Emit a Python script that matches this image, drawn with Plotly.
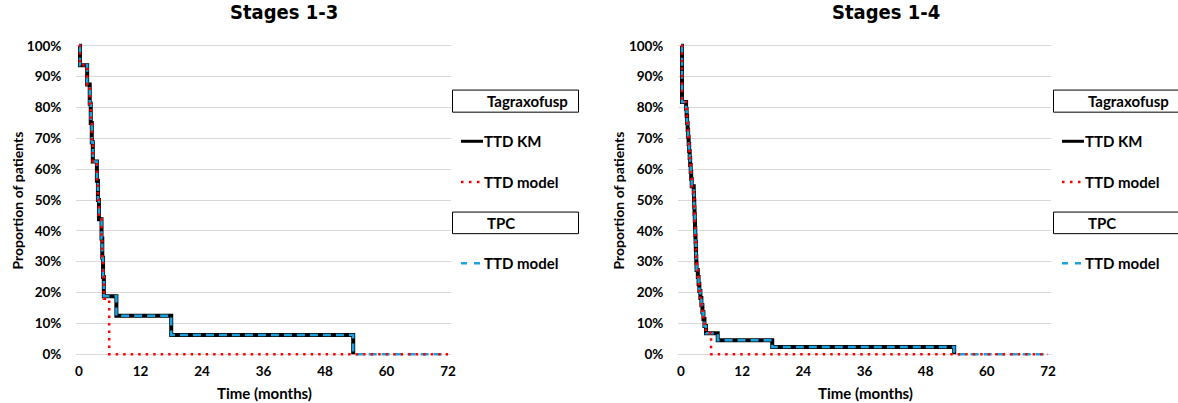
import plotly.graph_objects as go

# ---------------- data ----------------
# Stages 1-3 (n=16)
km13_t = [0, 0.2, 1.6, 2.1, 2.3, 2.5, 2.7, 3.5, 3.7, 3.9, 4.4, 4.55, 4.7, 4.85, 7.3, 18.0, 53.5]
km13_s = [100, 93.75, 87.5, 81.25, 75, 68.75, 62.5, 56.25, 50, 43.75, 37.5, 31.25, 25, 18.75, 12.5, 6.25, 0]
mod13_t = [0, 0.2, 1.6, 2.1, 2.3, 2.5, 2.7, 3.5, 3.7, 3.9, 4.4, 4.55, 4.7, 4.85, 5.9, 72]
mod13_s = [100, 93.75, 87.5, 81.25, 75, 68.75, 62.5, 56.25, 50, 43.75, 37.5, 31.25, 25, 18.0, 0, 0]
tpc13_t = [0, 0.2, 1.6, 2.1, 2.3, 2.5, 2.7, 3.5, 3.7, 3.9, 4.4, 4.55, 4.7, 4.85, 7.3, 18.0, 53.5, 72]
tpc13_s = [100, 93.75, 87.5, 81.25, 75, 68.75, 62.5, 56.25, 50, 43.75, 37.5, 31.25, 25, 18.75, 12.5, 6.25, 0, 0]

# Stages 1-4 (n=44)
km14_t = [0, 0.2, 1.0, 1.1, 1.2, 1.3, 1.4, 1.5, 1.6, 1.7, 1.8, 1.9, 2.0, 2.1,
          2.5, 2.55, 2.6, 2.65, 2.7, 2.75, 2.8, 2.85, 2.9, 2.95, 3.0, 3.05,
          3.3, 3.45, 3.6, 3.8, 4.0, 4.2, 4.4, 4.6, 4.9, 7.2, 17.9, 53.6]
km14_s = [100, 81.8, 79.5, 77.3, 75.0, 72.7, 70.5, 68.2, 65.9, 63.6, 61.4, 59.1, 56.8, 54.5,
          52.3, 50.0, 47.7, 45.5, 43.2, 40.9, 38.6, 36.4, 34.1, 31.8, 29.5, 27.3,
          25.0, 22.7, 20.5, 18.2, 15.9, 13.6, 11.4, 9.1, 6.8, 4.5, 2.3, 0.0]
mod14_t = [0, 0.2, 1.0, 1.1, 1.2, 1.3, 1.4, 1.5, 1.6, 1.7, 1.8, 1.9, 2.0, 2.1,
           2.5, 2.55, 2.6, 2.65, 2.7, 2.75, 2.8, 2.85, 2.9, 2.95, 3.0, 3.05,
           3.3, 3.45, 3.6, 3.8, 4.0, 4.2, 4.4, 4.6, 4.9, 5.9, 72]
mod14_s = [100, 81.8, 79.5, 77.3, 75.0, 72.7, 70.5, 68.2, 65.9, 63.6, 61.4, 59.1, 56.8, 54.5,
           52.3, 50.0, 47.7, 45.5, 43.2, 40.9, 38.6, 36.4, 34.1, 31.8, 29.5, 27.3,
           25.0, 22.7, 20.5, 18.2, 15.9, 13.6, 11.4, 9.1, 6.8, 0.0, 0.0]
tpc14_t = [0, 0.2, 1.0, 1.1, 1.2, 1.3, 1.4, 1.5, 1.6, 1.7, 1.8, 1.9, 2.0, 2.1,
           2.5, 2.55, 2.6, 2.65, 2.7, 2.75, 2.8, 2.85, 2.9, 2.95, 3.0, 3.05,
           3.3, 3.45, 3.6, 3.8, 4.0, 4.2, 4.4, 4.6, 4.9, 7.2, 17.9, 53.6, 72]
tpc14_s = [100, 81.8, 79.5, 77.3, 75.0, 72.7, 70.5, 68.2, 65.9, 63.6, 61.4, 59.1, 56.8, 54.5,
           52.3, 50.0, 47.7, 45.5, 43.2, 40.9, 38.6, 36.4, 34.1, 31.8, 29.5, 27.3,
           25.0, 22.7, 20.5, 18.2, 15.9, 13.6, 11.4, 9.1, 6.8, 4.5, 2.3, 0.0, 0.0]

x_ticks = [0, 12, 24, 36, 48, 60, 72]
y_ticks = [0, 10, 20, 30, 40, 50, 60, 70, 80, 90, 100]
y_ticklabels = ["0%", "10%", "20%", "30%", "40%", "50%", "60%", "70%", "80%", "90%", "100%"]
panel_titles = ["Stages 1-3", "Stages 1-4"]
x_title = "Time (months)"
y_title = "Proportion of patients"
legend_headers = ["Tagraxofusp", "TPC"]
legend_items = ["TTD KM", "TTD model", "TTD model"]

# ---------------- style ----------------
TW, TH = 1178, 403          # target picture size
W, H = 1184, 412            # figure size (page is photographed slightly scaled)
BLACK = "#000000"
RED = "#FF0000"
BLUE = "#1AA3E0"
GRID = "#D9D9D9"
FONT = "Lato, 'Open Sans', sans-serif"
TFONT = "'Liberation Sans Narrow', 'DejaVu Sans Condensed', 'Arial Narrow', sans-serif"
TXT = 15
TICK = 13.5

def fx(px):
    return px / TW

def fy(py):
    d = (py - 46.0) * 307.0 / 305.0 + 41.0
    return 1 - d / TH

fig = go.Figure()

panels = [
    dict(km=(km13_t, km13_s), mod=(mod13_t, mod13_s), tpc=(tpc13_t, tpc13_s), xa="x", ya="y"),
    dict(km=(km14_t, km14_s), mod=(mod14_t, mod14_s), tpc=(tpc14_t, tpc14_s), xa="x2", ya="y2"),
]

for p in panels:
    fig.add_trace(go.Scatter(x=p["km"][0], y=p["km"][1], mode="lines", line_shape="hv",
                             line=dict(color=BLACK, width=4), xaxis=p["xa"], yaxis=p["ya"],
                             showlegend=False, hoverinfo="skip"))
    fig.add_trace(go.Scatter(x=p["tpc"][0], y=p["tpc"][1], mode="lines", line_shape="hv",
                             line=dict(color=BLUE, width=2.5, dash="8px,5px"), xaxis=p["xa"], yaxis=p["ya"],
                             showlegend=False, hoverinfo="skip"))
    fig.add_trace(go.Scatter(x=p["mod"][0], y=p["mod"][1], mode="lines", line_shape="hv",
                             line=dict(color=RED, width=2.5, dash="2.5px,5px"), xaxis=p["xa"], yaxis=p["ya"],
                             showlegend=False, hoverinfo="skip"))

ydom = [fy(356.1), fy(42.9)]
xdoms = [[fx(75.4), fx(449.6)], [fx(677.45), fx(1049.55)]]

axis_common_x = dict(range=[-0.5, 72.5], tickvals=x_ticks, showgrid=False, zeroline=False,
                     showline=False, ticks="", ticklabelstandoff=4,
                     tickfont=dict(family=FONT, size=TICK, color="#000", weight="bold"))
axis_common_y = dict(range=[-1, 101], tickvals=y_ticks, ticktext=y_ticklabels, showgrid=True,
                     gridcolor=GRID, gridwidth=1, zeroline=False, showline=False, ticks="",
                     ticklabelstandoff=14,
                     tickfont=dict(family=FONT, size=TICK, color="#000", weight="bold"))

fig.update_layout(
    width=W, height=H,
    margin=dict(l=0, r=0, t=0, b=0),
    paper_bgcolor="white", plot_bgcolor="white",
    xaxis=dict(domain=xdoms[0], anchor="y", **axis_common_x),
    yaxis=dict(domain=ydom, anchor="x", **axis_common_y),
    xaxis2=dict(domain=xdoms[1], anchor="y2", **axis_common_x),
    yaxis2=dict(domain=ydom, anchor="x2", **axis_common_y),
    showlegend=False,
)

annotations = []
shapes = []
offsets = [0, 601]
title_cx = [283, 885]
xtitle_cx = [263, 864]
ytitle_cx = [17, 618]
for i, off in enumerate(offsets):
    annotations.append(dict(text="<b>%s</b>" % panel_titles[i], x=fx(title_cx[i]), y=fy(12),
                            xref="paper", yref="paper", showarrow=False, xanchor="center", yanchor="middle",
                            font=dict(family=TFONT, size=20, color="#000")))
    annotations.append(dict(text="<b>%s</b>" % x_title, x=fx(xtitle_cx[i]), y=fy(392),
                            xref="paper", yref="paper", showarrow=False, xanchor="center", yanchor="middle",
                            font=dict(family=FONT, size=TXT, color="#000")))
    annotations.append(dict(text="<b>%s</b>" % y_title, x=fx(ytitle_cx[i]), y=fy(200), textangle=-90,
                            xref="paper", yref="paper", showarrow=False, xanchor="center", yanchor="middle",
                            font=dict(family=FONT, size=14, color="#000")))
    # legend boxes
    for (yt, yb, label) in [(90, 112, legend_headers[0]), (211.5, 233, legend_headers[1])]:
        shapes.append(dict(type="rect", xref="paper", yref="paper",
                           x0=fx(451.5 + off), x1=fx(577.5 + off), y0=fy(yb), y1=fy(yt),
                           line=dict(color="#000", width=1), fillcolor="rgba(0,0,0,0)"))
        annotations.append(dict(text="<b>%s</b>" % label, x=fx(484 + off), y=fy((yt + yb) / 2),
                                xref="paper", yref="paper", showarrow=False, xanchor="left", yanchor="middle",
                                font=dict(family=FONT, size=TXT, color="#000")))
    # legend samples
    for (yy, color, width, dash, label) in [(141, BLACK, 3, "solid", legend_items[0]),
                                           (181.5, RED, 2.5, "2.5px,5.5px", legend_items[1]),
                                           (262.5, BLUE, 2.5, "6px,7px", legend_items[2])]:
        shapes.append(dict(type="line", xref="paper", yref="paper",
                           x0=fx(460 + off), x1=fx(482 + off), y0=fy(yy), y1=fy(yy),
                           line=dict(color=color, width=width, dash=dash)))
        annotations.append(dict(text="<b>%s</b>" % label, x=fx(481 + off), y=fy(yy),
                                xref="paper", yref="paper", showarrow=False, xanchor="left", yanchor="middle",
                                font=dict(family=FONT, size=TXT, color="#000")))

fig.update_layout(annotations=annotations, shapes=shapes)
fig.write_html("out.html", config={"displayModeBar": False},
               post_script="document.body.style.margin='0px';document.body.style.overflow='hidden';")
